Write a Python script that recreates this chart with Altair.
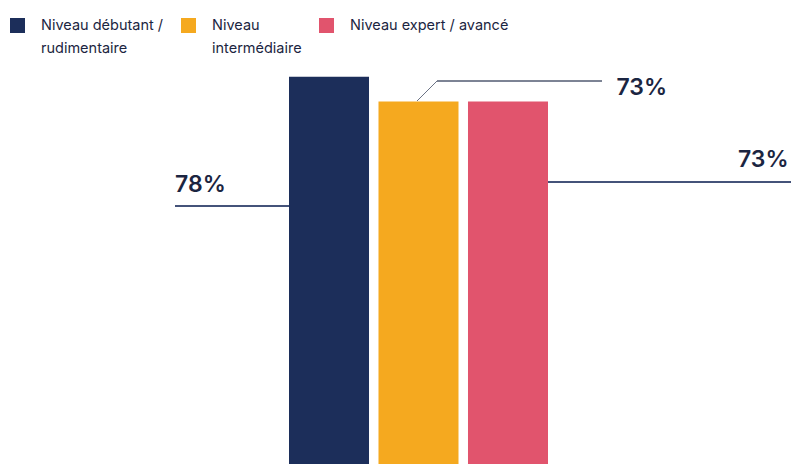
import altair as alt
import pandas as pd

categories = ["Niveau débutant /\nrudimentaire", "Niveau\nintermédiaire", "Niveau expert / avancé"]
values = [78, 73, 73]
labels = ["78%", "73%", "73%"]
colors = ["#1c2e5a", "#f5a91f", "#e1546d"]

df = pd.DataFrame({"cat": categories, "value": values, "label": labels})

TEXT = "#1b2541"
W, H = 783, 456

xenc = alt.X("cat:N", sort=categories, axis=None,
             scale=alt.Scale(range=[281, 540], paddingInner=0.106, paddingOuter=0))
yenc = alt.Y("value:Q", axis=None,
             scale=alt.Scale(domain=[0, 91.84], nice=False, zero=True))

bars = alt.Chart(df).mark_bar().encode(
    x=xenc,
    y=yenc,
    color=alt.Color(
        "cat:N", sort=categories,
        scale=alt.Scale(domain=categories, range=colors),
        legend=alt.Legend(
            title=None, orient="none", legendX=2, legendY=10,
            direction="horizontal", symbolType="square", symbolSize=225,
            symbolStrokeWidth=0, labelFont="Inter", labelFontSize=14.5,
            labelColor=TEXT,
            labelExpr="indexof(datum.label, '\\n') < 0 ? [datum.label, ' '] : split(datum.label, '\\n')",
            columnPadding=17, labelOffset=16, padding=0, labelLimit=300,
        ),
    ),
)

# label offsets relative to each bar's top centre
offsets = [(-154, 115), (198, -6.5), (230, 65.5)]
texts = []
for cat, (dx, dy) in zip(categories, offsets):
    texts.append(
        alt.Chart(df).transform_filter(alt.datum.cat == cat).mark_text(
            align="left", baseline="alphabetic", dx=dx, dy=dy,
            font="Inter", fontSize=23, fontWeight=600, color=TEXT,
        ).encode(x=xenc, y=yenc, text="label:N")
    )

lead1 = alt.Chart(df).mark_rule(color="#2b3a67", strokeWidth=1).encode(
    x=alt.value(167), x2=alt.value(281), y=alt.value(198))
lead2a = alt.Chart(df).mark_rule(color="#6b7385", strokeWidth=1).encode(
    x=alt.value(409), y=alt.value(93), x2=alt.value(429), y2=alt.value(73))
lead2b = alt.Chart(df).mark_rule(color="#6b7385", strokeWidth=1).encode(
    x=alt.value(429), x2=alt.value(594), y=alt.value(73))
lead3 = alt.Chart(df).mark_rule(color="#2b3a67", strokeWidth=1).encode(
    x=alt.value(540), x2=alt.value(783), y=alt.value(174))

chart = alt.layer(bars, lead1, lead2a, lead2b, lead3, *texts).properties(
    width=W, height=H, autosize="none", padding=0, background="white"
).configure(
    view=alt.ViewConfig(stroke=None),
    style={"guide-label": {"lineHeight": 23}},
)

chart.save("out.html", embed_options={"renderer": "svg", "actions": False})
